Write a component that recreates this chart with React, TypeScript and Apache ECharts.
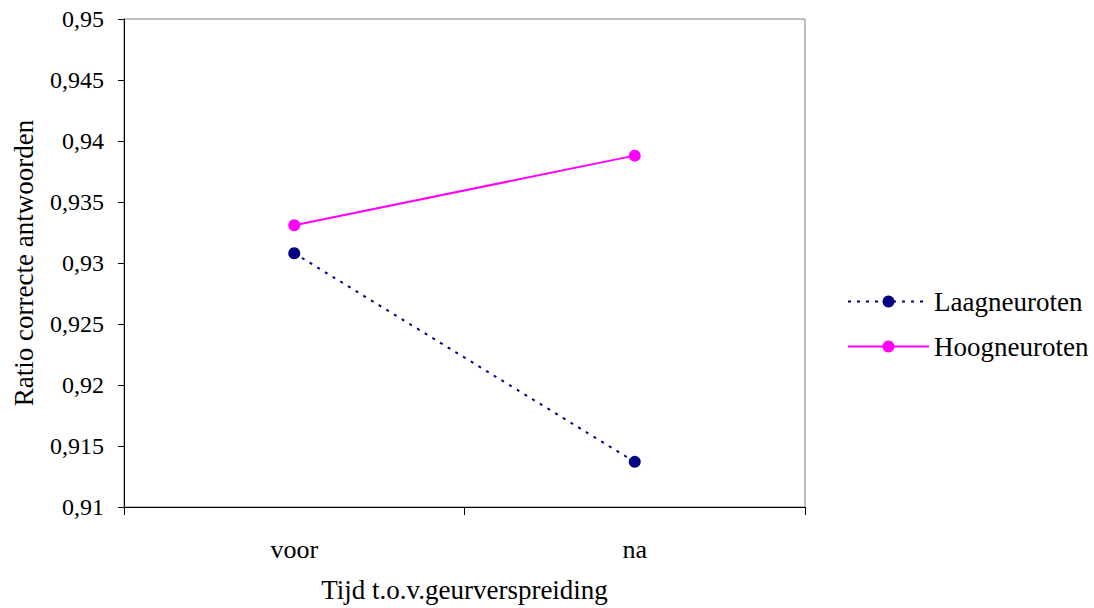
import React, { useEffect, useRef } from "react";
import * as echarts from "echarts";

const categories = ["voor", "na"];
const laagValues = [0.9308, 0.9137];
const hoogValues = [0.9331, 0.9388];
const seriesNames = ["Laagneuroten", "Hoogneuroten"];

const FONT = "'Liberation Serif', 'Times New Roman', serif";

const fmt = (v: number) => String(+v.toFixed(3)).replace(".", ",");

export default function App() {
  const ref = useRef<HTMLDivElement>(null);

  useEffect(() => {
    if (!ref.current) return;
    const chart = echarts.init(ref.current, undefined, { renderer: "svg" });
    chart.setOption({
      animation: false,
      backgroundColor: "#ffffff",
      textStyle: { fontFamily: FONT, color: "#000" },
      grid: {
        left: 124,
        top: 19,
        right: 289,
        bottom: 100,
        show: true,
        borderColor: "#808080",
        borderWidth: 1,
        backgroundColor: "transparent",
      },
      legend: {
        orient: "vertical",
        left: 847,
        top: 288,
        padding: 0,
        itemWidth: 81,
        itemHeight: 15,
        itemGap: 18,
        textStyle: { fontFamily: FONT, fontSize: 27, lineHeight: 27, color: "#000" },
        data: seriesNames,
      },
      xAxis: {
        type: "category",
        data: categories,
        boundaryGap: true,
        name: "Tijd t.o.v.geurverspreiding",
        nameLocation: "middle",
        nameGap: 69,
        nameTextStyle: { fontFamily: FONT, fontSize: 27, color: "#000" },
        axisLine: { lineStyle: { color: "#000", width: 1 } },
        axisTick: { show: true, length: 8, lineStyle: { color: "#000" } },
        axisLabel: { fontFamily: FONT, fontSize: 26, color: "#000", margin: 29 },
        splitLine: { show: false },
      },
      yAxis: {
        type: "value",
        min: 0.91,
        max: 0.95,
        interval: 0.005,
        name: "Ratio correcte antwoorden",
        nameLocation: "middle",
        nameGap: 87,
        nameTextStyle: { fontFamily: FONT, fontSize: 27, color: "#000" },
        axisLine: { show: true, lineStyle: { color: "#000", width: 1 } },
        axisTick: { show: true, length: 6, lineStyle: { color: "#000" } },
        axisLabel: {
          fontFamily: FONT,
          fontSize: 24,
          color: "#000",
          margin: 20,
          formatter: (v: number) => fmt(v),
        },
        splitLine: { show: false },
      },
      series: [
        {
          name: seriesNames[0],
          type: "line",
          data: laagValues,
          symbol: "circle",
          symbolSize: 12,
          itemStyle: { color: "#000080" },
          lineStyle: { color: "#000080", width: 2, type: [3, 6] },
        },
        {
          name: seriesNames[1],
          type: "line",
          data: hoogValues,
          symbol: "circle",
          symbolSize: 12,
          itemStyle: { color: "#ff00ff" },
          lineStyle: { color: "#ff00ff", width: 2, type: "solid" },
        },
      ],
    });
    return () => chart.dispose();
  }, []);

  return (
    <div
      ref={ref}
      style={{ position: "fixed", left: 0, top: 0, width: 1094, height: 608 }}
    />
  );
}
